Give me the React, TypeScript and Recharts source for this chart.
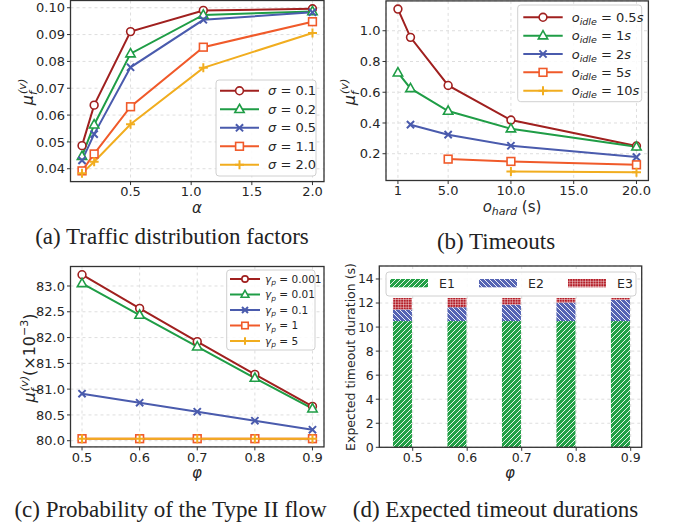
import React from 'react';
import { LineChart, Line, BarChart, Bar, XAxis, YAxis, CartesianGrid } from 'recharts';

const W = 675;
const H = 527;

// (a) traffic distribution factors
const alphaValues = [0.1, 0.2, 0.5, 1.1, 2.0];
const sigmaLabels = ['0.1', '0.2', '0.5', '1.1', '2.0'];
const muSigma01 = [0.0486, 0.0637, 0.0911, 0.099, 0.0996];
const muSigma02 = [0.0447, 0.0564, 0.0829, 0.0973, 0.0986];
const muSigma05 = [0.0431, 0.0529, 0.0778, 0.0955, 0.0983];
const muSigma11 = [0.0392, 0.0455, 0.0631, 0.0853, 0.0948];
const muSigma20 = [0.0383, 0.0426, 0.0566, 0.0776, 0.0906];
const alphaTicks = [0.5, 1.0, 1.5, 2.0];
const muTicksA = [0.04, 0.05, 0.06, 0.07, 0.08, 0.09, 0.1];

// (b) timeouts
const hardTimeouts = [1, 2, 5, 10, 20];
const hardTicks = [1, 5, 10, 15, 20];
const hardTickLabels = ['1', '5.0', '10.0', '15.0', '20.0'];
const idleLabels = ['0.5', '1', '2', '5', '10'];
const muIdle05 = [1.141, 0.957, 0.644, 0.419, 0.25];
const muIdle1 = [0.727, 0.625, 0.478, 0.363, 0.245];
const muIdle2 = [null, 0.389, 0.324, 0.252, 0.178];
const muIdle5 = [null, null, 0.165, 0.15, 0.128];
const muIdle10 = [null, null, null, 0.085, 0.079];
const muTicksB = [0.2, 0.4, 0.6, 0.8, 1.0];

// (c) probability of the type II flow
const phiValues = [0.5, 0.6, 0.7, 0.8, 0.9];
const gammaLabels = ['0.001', '0.01', '0.1', '1', '5'];
const muGamma0001 = [83.219, 82.566, 81.92, 81.286, 80.666];
const muGamma001 = [83.051, 82.437, 81.823, 81.215, 80.62];
const muGamma01 = [80.911, 80.737, 80.562, 80.388, 80.213];
const muGamma1 = [80.039, 80.039, 80.039, 80.039, 80.039];
const muGamma5 = [80.039, 80.039, 80.039, 80.039, 80.039];
const muTicksC = [80.0, 80.5, 81.0, 81.5, 82.0, 82.5, 83.0];

// (d) expected timeout durations
const durationE1 = [10.5, 10.5, 10.5, 10.5, 10.5];
const durationE2 = [0.96, 1.15, 1.37, 1.54, 1.76];
const durationE3 = [0.96, 0.77, 0.55, 0.38, 0.16];
const durationLabels = ['E1', 'E2', 'E3'];
const durationTicks = [0, 2, 4, 6, 8, 10, 12, 14];

const colors = ['#a0201f', '#1f9d46', '#4a5bad', '#f05a2a', '#f1ad1f'];
const markers = ['circle', 'triangle', 'x', 'square', 'plus'];
const barFills = ['url(#hatchE1)', 'url(#hatchE2)', 'url(#hatchE3)'];
const keys = ['s0', 's1', 's2', 's3', 's4'];

const tableA = alphaValues.map((x, i) => ({
  x, s0: muSigma01[i], s1: muSigma02[i], s2: muSigma05[i], s3: muSigma11[i], s4: muSigma20[i],
}));
const tableB = hardTimeouts.map((x, i) => ({
  x, s0: muIdle05[i], s1: muIdle1[i], s2: muIdle2[i], s3: muIdle5[i], s4: muIdle10[i],
}));
const tableC = phiValues.map((x, i) => ({
  x, s0: muGamma0001[i], s1: muGamma001[i], s2: muGamma01[i], s3: muGamma1[i], s4: muGamma5[i],
}));
const tableD = phiValues.map((x, i) => ({ x, e1: durationE1[i], e2: durationE2[i], e3: durationE3[i] }));

type Rect = [number, number, number, number];
const rectA: Rect = [70.5, 0.5, 324, 181.6];
const rectB: Rect = [386, 0.9, 648.4, 180.5];
const rectC: Rect = [70.5, 266.5, 324, 446.9];
const rectD: Rect = [379.3, 266, 641.7, 447.3];

const YW = 60;
const XH = 30;
const textColor = '#262626';
const frameColor = '#333';

function Marker({ shape, x, y, s, color }: { shape: string; x: number; y: number; s: number; color: string }) {
  const sw = 1.6;
  if (shape === 'circle') return <circle cx={x} cy={y} r={s / 2 - 0.6} fill="#fff" stroke={color} strokeWidth={sw} />;
  if (shape === 'triangle') {
    const d = `M${x},${y - s * 0.56} L${x + s * 0.52},${y + s * 0.36} L${x - s * 0.52},${y + s * 0.36} Z`;
    return <path d={d} fill="#fff" stroke={color} strokeWidth={sw} strokeLinejoin="miter" />;
  }
  if (shape === 'x') {
    const h = s * 0.4;
    return <path d={`M${x - h},${y - h} L${x + h},${y + h} M${x - h},${y + h} L${x + h},${y - h}`} stroke={color} strokeWidth={2} />;
  }
  if (shape === 'square') {
    const h = s * 0.43;
    return <rect x={x - h} y={y - h} width={2 * h} height={2 * h} fill="#fff" stroke={color} strokeWidth={sw} />;
  }
  const h = s * 0.5;
  return <path d={`M${x - h},${y} L${x + h},${y} M${x},${y - h} L${x},${y + h}`} stroke={color} strokeWidth={2} />;
}

function dotRenderer(shape: string, color: string, s: number) {
  return (p: any) => {
    if (p.cx == null || p.cy == null || p.value == null) return <g key={`d${p.index}`} />;
    return (
      <g key={`d${p.index}`}>
        <Marker shape={shape} x={p.cx} y={p.cy} s={s} color={color} />
      </g>
    );
  };
}

function shiftedBar(p: any) {
  return <rect x={p.x - p.width / 2 - 1} y={p.y} width={p.width} height={p.height} fill={p.fill} />;
}

function margins(r: Rect) {
  return { left: r[0] - YW, top: r[1], right: W - r[2], bottom: H - r[3] - XH };
}

const tickStyle = (size: number) => ({ fill: textColor, fontSize: size, fontFamily: 'DejaVu Sans' });

function LinePanel(props: {
  rect: Rect; data: any[]; xDomain: [number, number]; yDomain: [number, number];
  xTicks: number[]; yTicks: number[]; xFmt: (v: number) => string; yFmt: (v: number) => string;
}) {
  const { rect, data, xDomain, yDomain, xTicks, yTicks, xFmt, yFmt } = props;
  return (
    <div style={{ position: 'absolute', left: 0, top: 0 }}>
      <LineChart width={W} height={H} data={data} margin={margins(rect)}>
        <CartesianGrid stroke="#dedede" strokeDasharray="3 3" />
        <XAxis dataKey="x" type="number" domain={xDomain} ticks={xTicks} tickFormatter={xFmt} allowDataOverflow
          height={XH} axisLine={false} tickSize={3.5} tickMargin={2} tick={tickStyle(13)} tickLine={{ stroke: frameColor }} interval={0} />
        <YAxis type="number" domain={yDomain} ticks={yTicks} tickFormatter={yFmt} allowDataOverflow
          width={YW} axisLine={false} tickSize={3.5} tickMargin={2} tick={tickStyle(13)} tickLine={{ stroke: frameColor }} interval={0} />
        {keys.map((k, i) => (
          <Line key={k} dataKey={k} type="linear" stroke={colors[i]} strokeWidth={2}
            dot={dotRenderer(markers[i], colors[i], 9)} activeDot={false} isAnimationActive={false} />
        ))}
      </LineChart>
    </div>
  );
}

function LineLegend({ box, y0, gap, hx, tx, size, ms, labels }: {
  box: Rect; y0: number; gap: number; hx: [number, number]; tx: number; size: number; ms: number; labels: React.ReactNode[];
}) {
  return (
    <g>
      <rect x={box[0]} y={box[1]} width={box[2] - box[0]} height={box[3] - box[1]} rx={3}
        fill="#fff" fillOpacity={0.85} stroke="#d0d0d0" strokeWidth={1} />
      {labels.map((lab, i) => {
        const y = y0 + i * gap;
        return (
          <g key={i}>
            <line x1={hx[0]} x2={hx[1]} y1={y} y2={y} stroke={colors[i]} strokeWidth={2} />
            <Marker shape={markers[i]} x={(hx[0] + hx[1]) / 2} y={y} s={ms} color={colors[i]} />
            <text x={tx} y={y} dy="0.35em" fontSize={size} fontFamily="DejaVu Sans" fill={textColor} style={{ whiteSpace: 'pre' }}>
              {lab}
            </text>
          </g>
        );
      })}
    </g>
  );
}

function Overlay() {
  const frames = [rectA, rectB, rectC, rectD];
  const cap = { fontFamily: 'Liberation Serif', fontSize: 23, fill: '#222', textAnchor: 'middle' as const };
  const ax = { fontFamily: 'DejaVu Sans', fill: textColor };
  // mu_f^(v); ends 7px above the baseline
  const mu = (fs: number) => [
    <tspan key="m" fontStyle="italic">μ</tspan>,
    <tspan key="f" fontStyle="italic" fontSize={fs * 0.7} dy={4}>f</tspan>,
    <tspan key="v" fontStyle="italic" fontSize={fs * 0.7} dx={-3} dy={-11}>(v)</tspan>,
  ];
  return (
    <svg width={W} height={H} style={{ position: 'absolute', left: 0, top: 0, pointerEvents: 'none' }}>
      <defs>
        <pattern id="hatchE1" width="5" height="5" patternUnits="userSpaceOnUse">
          <rect width="5" height="5" fill="#22a046" />
          <path d="M-1,1 l2,-2 M0,5 l5,-5 M4,6 l2,-2" stroke="#fff" strokeWidth="0.9" />
        </pattern>
        <pattern id="hatchE2" width="5" height="5" patternUnits="userSpaceOnUse">
          <rect width="5" height="5" fill="#5564b4" />
          <path d="M-1,4 l2,2 M0,0 l5,5 M4,-1 l2,2" stroke="#fff" strokeWidth="0.9" />
        </pattern>
        <pattern id="hatchE3" width="2.6" height="2.6" patternUnits="userSpaceOnUse">
          <rect width="2.6" height="2.6" fill="#b41e28" />
          <path d="M0,0 L2.6,0 M0,0 L0,2.6" stroke="#fff" strokeWidth="0.8" />
        </pattern>
      </defs>
      {frames.map((r, i) => (
        <rect key={i} x={r[0]} y={r[1]} width={r[2] - r[0]} height={r[3] - r[1]} fill="none" stroke={frameColor} strokeWidth={1.3} />
      ))}

      <LineLegend box={[216, 80, 316, 176]} y0={90.8} gap={18.5} hx={[220, 259]} tx={268} size={13} ms={9}
        labels={sigmaLabels.map((l) => [<tspan key="a" fontStyle="italic">σ</tspan>, ` = ${l}`])} />
      <LineLegend box={[517.7, 5, 641.7, 101.7]} y0={17.3} gap={18.35} hx={[523.3, 562.7]} tx={571.7} size={13} ms={9}
        labels={idleLabels.map((l) => [
          <tspan key="o" fontStyle="italic">o</tspan>,
          <tspan key="i" fontStyle="italic" fontSize={9.5} dy={3}>idle</tspan>,
          <tspan key="n" dy={-3}>{` = ${l}`}</tspan>,
          <tspan key="s" fontStyle="italic">s</tspan>,
        ])} />
      <LineLegend box={[226.7, 270, 315, 350]} y0={279} gap={15.5} hx={[230, 260]} tx={265} size={10.5} ms={7.5}
        labels={gammaLabels.map((l) => [
          <tspan key="g" fontStyle="italic">γ</tspan>,
          <tspan key="p" fontStyle="italic" fontSize={7.5} dy={2.5}>p</tspan>,
          <tspan key="n" dy={-2.5}>{` = ${l}`}</tspan>,
        ])} />

      <g>
        <rect x={386} y={272} width={250} height={24} rx={3} fill="#fff" fillOpacity={0.85} stroke="#d0d0d0" strokeWidth={1} />
        {durationLabels.map((l, i) => (
          <g key={l}>
            <rect x={390 + i * 89} y={279} width={38} height={8.3} fill={barFills[i]} />
            <text x={439 + i * 89} y={283.2} dy="0.35em" fontSize={12.5} fontFamily="DejaVu Sans" fill={textColor}>{l}</text>
          </g>
        ))}
      </g>

      {/* axis labels */}
      <text x={197} y={213} textAnchor="middle" fontSize={15} fontStyle="italic" {...ax}>α</text>
      <text x={512} y={212} textAnchor="middle" fontSize={15} style={{ whiteSpace: 'pre' }} {...ax}>
        <tspan fontStyle="italic">o</tspan>
        <tspan fontStyle="italic" fontSize={11} dy={3}>hard</tspan>
        <tspan dy={-3}> (s)</tspan>
      </text>
      <text x={197} y={478} textAnchor="middle" fontSize={15} fontStyle="italic" {...ax}>φ</text>
      <text x={510} y={478} textAnchor="middle" fontSize={15} fontStyle="italic" {...ax}>φ</text>

      <text transform="translate(27,92) rotate(-90)" x={0} y={6} textAnchor="middle" fontSize={16} {...ax}>{mu(16)}</text>
      <text transform="translate(349,92) rotate(-90)" x={0} y={6} textAnchor="middle" fontSize={16} {...ax}>{mu(16)}</text>
      <text transform="translate(29,358) rotate(-90)" x={0} y={6} textAnchor="middle" fontSize={16} {...ax}>
        {mu(16)}
        <tspan dy={7}>(×10</tspan>
        <tspan fontSize={11} dy={-7}>−3</tspan>
        <tspan dy={7}>)</tspan>
      </text>
      <text transform="translate(350,357) rotate(-90)" x={0} y={4.5} textAnchor="middle" fontSize={12.5} {...ax}>
        Expected timeout duration (s)
      </text>

      {/* captions */}
      <text x={172} y={244} {...cap}>(a) Traffic distribution factors</text>
      <text x={496} y={249} {...cap}>(b) Timeouts</text>
      <text x={170.5} y={517} {...cap}>(c) Probability of the Type II flow</text>
      <text x={495.5} y={517} {...cap}>(d) Expected timeout durations</text>
    </svg>
  );
}

export default function App() {
  return (
    <div style={{ position: 'absolute', left: 0, top: 0, width: W, height: H, background: '#fff', overflow: 'hidden' }}>
      <LinePanel rect={rectA} data={tableA} xDomain={[0.005, 2.095]} yDomain={[0.0352, 0.1027]}
        xTicks={alphaTicks} yTicks={muTicksA} xFmt={(v) => v.toFixed(1)} yFmt={(v) => v.toFixed(2)} />
      <LinePanel rect={rectB} data={tableB} xDomain={[0.05, 20.95]} yDomain={[0.0259, 1.1941]}
        xTicks={hardTicks} yTicks={muTicksB} xFmt={(v) => hardTickLabels[hardTicks.indexOf(v)] ?? String(v)} yFmt={(v) => v.toFixed(1)} />
      <LinePanel rect={rectC} data={tableC} xDomain={[0.48, 0.92]} yDomain={[79.88, 83.378]}
        xTicks={phiValues} yTicks={muTicksC} xFmt={(v) => v.toFixed(1)} yFmt={(v) => v.toFixed(1)} />
      <div style={{ position: 'absolute', left: 0, top: 0 }}>
        <BarChart width={W} height={H} data={tableD} margin={margins(rectD)} barSize={19}>
          <CartesianGrid stroke="#dedede" strokeDasharray="3 3" />
          <XAxis dataKey="x" type="number" domain={[0.4387, 0.9202]} ticks={phiValues} tickFormatter={(v) => v.toFixed(1)} allowDataOverflow
            height={XH} axisLine={false} tickSize={3.5} tickMargin={2} tick={tickStyle(12.5)} tickLine={{ stroke: frameColor }} interval={0} />
          <YAxis type="number" domain={[0, 15.08]} ticks={durationTicks} allowDataOverflow
            width={YW} axisLine={false} tickSize={3.5} tickMargin={2} tick={tickStyle(12.5)} tickLine={{ stroke: frameColor }} interval={0} />
          <Bar dataKey="e1" stackId="s" fill={barFills[0]} shape={shiftedBar} isAnimationActive={false} />
          <Bar dataKey="e2" stackId="s" fill={barFills[1]} shape={shiftedBar} isAnimationActive={false} />
          <Bar dataKey="e3" stackId="s" fill={barFills[2]} shape={shiftedBar} isAnimationActive={false} />
        </BarChart>
      </div>
      <Overlay />
    </div>
  );
}
